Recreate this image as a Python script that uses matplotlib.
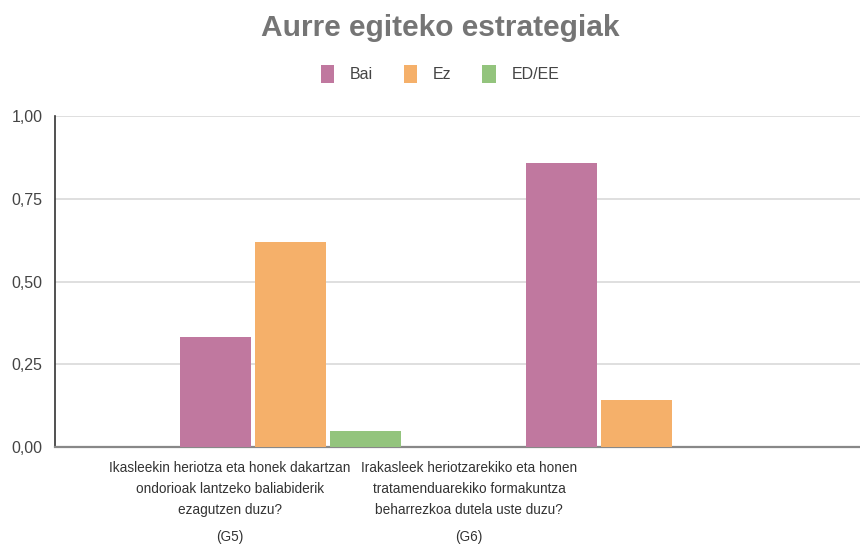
import matplotlib
matplotlib.use("Agg")
import matplotlib.pyplot as plt
from matplotlib.patches import Patch
import numpy as np

plt.rcParams['font.family'] = ["Liberation Sans", 'DejaVu Sans']

title = "Aurre egiteko estrategiak"
categories = [
    "Ikasleekin heriotza eta honek dakartzan\nondorioak lantzeko baliabiderik\nezagutzen duzu?",
    "Irakasleek heriotzarekiko eta honen\ntratamenduarekiko formakuntza\nbeharrezkoa dutela uste duzu?",
]
codes = ["(G5)", "(G6)"]
series_names = ["Bai", "Ez", "ED/EE"]
bai = [0.333, 0.857]
ez = [0.619, 0.143]
eded = [0.048, 0.0]
yticks = [0.0, 0.25, 0.5, 0.75, 1.0]
ytick_labels = ["0,00", "0,25", "0,50", "0,75", "1,00"]

colors = ["#c0789f", "#f5b06a", "#93c47d"]

fig = plt.figure(figsize=(8.6, 5.46), dpi=100)
ax = fig.add_axes([55/860, 1-447/546, 1-55/860, (447-116)/546])

x = np.arange(len(categories))
step = 75/346
width = 71/346
for i, (vals, c, n) in enumerate(zip([bai, ez, eded], colors, series_names)):
    ax.bar(x + (i-1)*step, vals, width=width, color=c, label=n, zorder=3)

ax.set_xlim((55-290.5)/346, (860-290.5)/346)
ax.set_ylim(0, 1.0)
ax.set_yticks(yticks)
ax.set_yticklabels(ytick_labels, fontsize=11.5, color="#444444")
ax.yaxis.grid(True, color="#d9d9d9", linewidth=1.2, zorder=0)
ax.tick_params(axis='y', length=0, pad=9)
ax.tick_params(axis='x', length=0, pad=10)
label_pos = [(230-290.5)/346, (469-290.5)/346]
ax.set_xticks(label_pos)
ax.set_xticklabels(categories, fontsize=9.8, color="#333333", linespacing=1.62)
for p, code in zip(label_pos, codes):
    ax.annotate(code, xy=(p, 0), xycoords=("data", "axes fraction"),
                xytext=(0, -65), textcoords="offset points", ha="center", va="center",
                fontsize=9.8, color="#333333")
for s in ["top", "right"]:
    ax.spines[s].set_visible(False)
ax.spines["left"].set_color("#333333")
ax.spines["left"].set_linewidth(1.2)
ax.spines["bottom"].set_color("#888888")
ax.spines["bottom"].set_linewidth(1.6)

fig.text(440/860, 1-28/546, title, ha="center", va="center", fontsize=21.5,
         fontweight="bold", color="#757575")

handles = [Patch(facecolor=c, edgecolor="none") for c in colors]
fig.legend(handles, series_names, loc="center", bbox_to_anchor=(440/860, 1-74/546),
           ncol=3, frameon=False, fontsize=11.5, handlelength=0.85, handleheight=1.3,
           handletextpad=1.0, columnspacing=1.9, labelcolor="#444444")

fig.savefig("out.png", dpi=100)
